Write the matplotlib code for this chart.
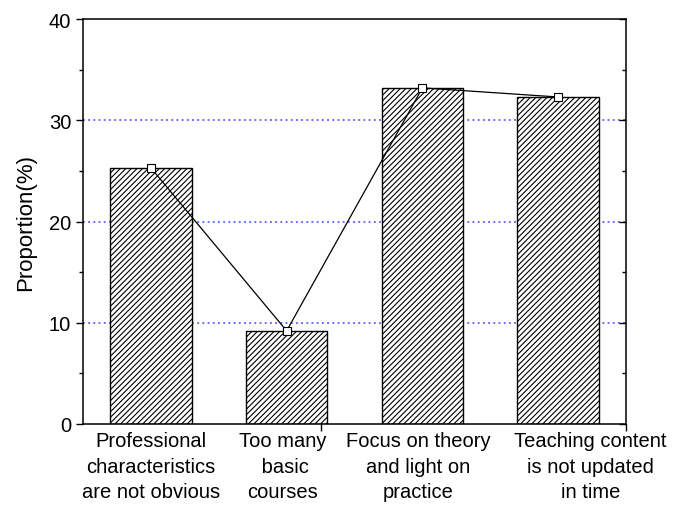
import numpy as np
import matplotlib.pyplot as plt
import matplotlib.transforms as mtransforms
from matplotlib.ticker import MultipleLocator, FixedLocator

plt.rcParams['font.family'] = ['Liberation Sans', 'DejaVu Sans']
plt.rcParams['hatch.linewidth'] = 0.8

categories = ['Professional\ncharacteristics\nare not obvious',
              'Too many\n basic\ncourses',
              'Focus on theory\nand light on\npractice',
              'Teaching content\nis not updated\nin time']
proportion = [25.3, 9.2, 33.2, 32.3]

x = np.arange(1, len(categories) + 1)

fig = plt.figure(figsize=(6.73, 5.10), dpi=100)
ax = fig.add_axes([0.1233, 0.1667, 0.807, 0.794])

ax.bar(x, proportion, width=0.6, color='white', edgecolor='black',
       linewidth=1.0, hatch='//////', zorder=2)
ax.plot(x, proportion, color='black', linewidth=0.9, marker='s',
        markersize=6, markerfacecolor='white', markeredgecolor='black',
        markeredgewidth=0.8, zorder=3)

for g in [10, 20, 30]:
    ax.axhline(g, color='#4040ff', linestyle=(0, (1.2, 2.2)),
               linewidth=1.1, zorder=1)

ax.set_xlim(0.5, 4.5)
ax.set_ylim(0, 40)
ax.yaxis.set_major_locator(MultipleLocator(10))
ax.yaxis.set_minor_locator(MultipleLocator(5))
ax.tick_params(axis='y', which='major', direction='out', length=5,
               width=1, labelsize=14.5, right=True)
ax.tick_params(axis='y', which='minor', direction='out', length=3,
               width=1, right=True)

ax.set_xticks(x)
ax.set_xticklabels(categories, fontsize=14.5, linespacing=1.45)
ax.tick_params(axis='x', which='major', length=0, pad=5)
ax.xaxis.set_minor_locator(FixedLocator([2.25, 4.5]))
ax.tick_params(axis='x', which='minor', direction='out', length=5, width=1)

# small horizontal shifts of the category labels, as in the original
shifts = [0, -4, -4, 32]
for lab, dx in zip(ax.get_xticklabels(), shifts):
    lab.set_transform(lab.get_transform() +
                      mtransforms.ScaledTranslation(dx / 100, 0, fig.dpi_scale_trans))

# right axis ticks point inward
for t in ax.yaxis.get_major_ticks() + ax.yaxis.get_minor_ticks():
    t.tick2line.set_marker(0)

for s in ax.spines.values():
    s.set_linewidth(1.1)

ax.set_ylabel('Proportion(%)', fontsize=16, labelpad=9)

fig.savefig('out.png', dpi=100)
